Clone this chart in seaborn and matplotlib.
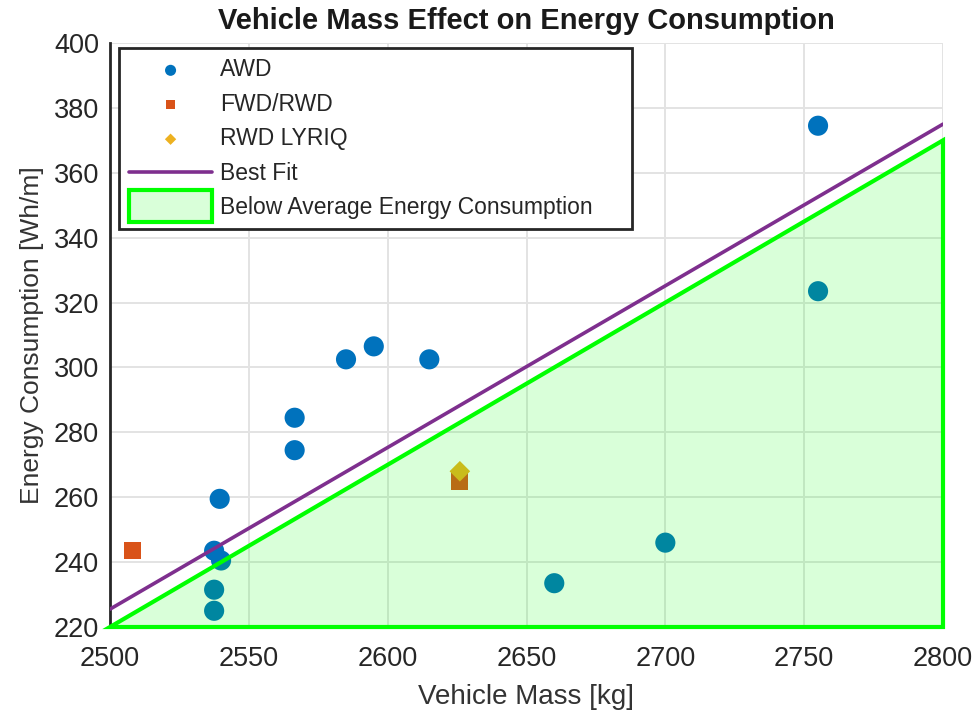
import numpy as np
import pandas as pd
import matplotlib
matplotlib.use("Agg")
import matplotlib.pyplot as plt
from matplotlib.patches import Rectangle
from matplotlib.legend_handler import HandlerPatch
import seaborn as sns

# ---- data ----
awd_mass = [2755, 2755, 2585, 2595, 2615, 2566.5, 2566.5, 2539.5, 2537.5, 2540, 2537.5, 2537.5, 2660, 2700]
awd_energy = [374.5, 323.5, 302.5, 306.5, 302.5, 284.5, 274.5, 259.5, 243.5, 240.5, 231.5, 225.0, 233.5, 246.0]

fwd_mass = [2508, 2626]
fwd_energy = [243.5, 265.0]

lyriq_mass = [2626]
lyriq_energy = [268.0]

fit_mass = [2500, 2800]
fit_energy = [225.5, 375.0]

below_mass = [2500, 2800, 2800]
below_energy = [220, 370, 220]

x_ticks = [2500, 2550, 2600, 2650, 2700, 2750, 2800]
y_ticks = [220, 240, 260, 280, 300, 320, 340, 360, 380, 400]

sns.set_theme(style="white")
plt.rcParams['font.family'] = ['Liberation Sans', 'DejaVu Sans']

fig = plt.figure(figsize=(9.76, 7.13), dpi=100)
ax = fig.add_axes([110/976, 1 - 627/713, (943-110)/976, (627-43)/713])

blue = '#0072BD'
orange = '#D95319'
yellow = '#EDB120'
purple = '#7E2F8E'
green = '#00FF00'

sns.scatterplot(x=awd_mass, y=awd_energy, ax=ax, color=blue, marker='o', s=210,
                edgecolor='none', label='AWD', zorder=3)
sns.scatterplot(x=fwd_mass, y=fwd_energy, ax=ax, color=orange, marker='s', s=150,
                edgecolor='none', label='FWD/RWD', zorder=3)
sns.scatterplot(x=lyriq_mass, y=lyriq_energy, ax=ax, color=yellow, marker='D', s=110,
                edgecolor='none', label='RWD LYRIQ', zorder=3)
sns.lineplot(x=fit_mass, y=fit_energy, ax=ax, color=purple, lw=2.6, label='Best Fit', zorder=5)
ax.fill(below_mass, below_energy, facecolor=(0, 1, 0, 0.15), edgecolor=green, lw=3,
        label='Below Average Energy Consumption', zorder=4, clip_on=False)

ax.set_xlim(2500, 2800)
ax.set_ylim(220, 400)
ax.set_xticks(x_ticks)
ax.set_yticks(y_ticks)
ax.grid(True, color='#e3e3e3', lw=1.4)
ax.set_axisbelow(True)
ax.tick_params(axis='both', direction='in', length=5, width=1.2, color='#262626',
               labelsize=19.5, labelcolor='#262626')
ax.tick_params(axis='x', pad=14)
ax.tick_params(axis='y', pad=8)
for s in ['top', 'right']:
    ax.spines[s].set_visible(False)
for s in ['left', 'bottom']:
    ax.spines[s].set_color('#262626')
    ax.spines[s].set_linewidth(2)

ax.set_xlabel('Vehicle Mass [kg]', fontsize=20, color='#333333', labelpad=8)
ax.set_ylabel('Energy Consumption [Wh/m]', fontsize=19, color='#333333', labelpad=7)
ax.set_title('Vehicle Mass Effect on Energy Consumption', fontsize=21, fontweight='bold',
             color='#1a1a1a', pad=10)


def tall_patch(legend, orig_handle, xdescent, ydescent, width, height, fontsize):
    extra = 5.5
    return Rectangle((-xdescent, -ydescent - extra), width, height + 2 * extra)


handles, labels = ax.get_legend_handles_labels()
leg = ax.legend(handles, labels, loc='upper left',
                bbox_to_anchor=(0.0108, 0.9914, (632 - 119) / 833, 0), mode='expand',
                borderaxespad=0, fontsize=16.5, markerscale=0.55,
                frameon=True, fancybox=False, edgecolor='#262626', framealpha=1,
                handlelength=3.6, labelspacing=0.5, borderpad=0.45, handletextpad=0.35,
                handler_map={handles[-1]: HandlerPatch(patch_func=tall_patch)})
leg.get_frame().set_linewidth(2)

fig.savefig('out.png', dpi=100)
